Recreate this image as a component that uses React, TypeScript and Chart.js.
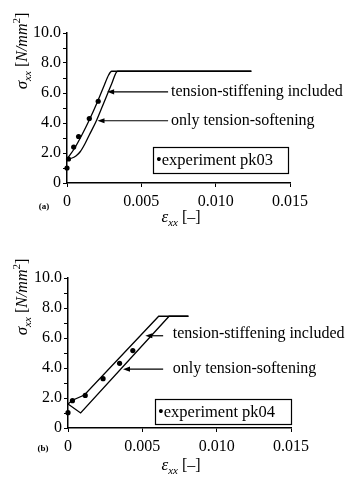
import React, { useEffect, useRef } from "react";
import { Chart, registerables } from "chart.js";

Chart.register(...registerables);

const FONT = '"Liberation Serif", "Times New Roman", serif';

// ---- axes ----
const X_TICKS = [0, 0.005, 0.01, 0.015];
const X_TICK_LABELS = ["0", "0.005", "0.010", "0.015"];
const Y_TICKS = [0, 1, 2, 3, 4, 5, 6, 7, 8, 9, 10];
const Y_TICK_LABELS = ["0", "", "2.0", "", "4.0", "", "6.0", "", "8.0", "", "10.0"];

const LABEL_STIFF = "tension-stiffening included";
const LABEL_SOFT = "only tension-softening";

// ---- panel (a) ----
const A_STIFF_X = [0, 0.0005, 0.001, 0.0015, 0.002, 0.0025, 0.0028, 0.003, 0.0124];
const A_STIFF_Y = [1.6, 2.3, 3.2, 4.2, 5.3, 6.5, 7.2, 7.45, 7.45];
const A_SOFT_X = [0, 0.0003, 0.0006, 0.0009, 0.0012, 0.0015, 0.002, 0.0025, 0.003, 0.0034, 0.0124];
const A_SOFT_Y = [1.6, 1.65, 1.8, 2.1, 2.6, 3.2, 4.2, 5.4, 6.6, 7.45, 7.45];
const A_EXP_X = [0, 0.0001, 0.00045, 0.00078, 0.0015, 0.0021];
const A_EXP_Y = [1.0, 1.6, 2.4, 3.1, 4.3, 5.45];
const A_EXP_LABEL = "experiment pk03";
const A_TAG = "(a)";

// ---- panel (b) ----
const B_STIFF_X = [0, 0.0003, 0.0011, 0.0061, 0.0081];
const B_STIFF_Y = [1.6, 1.85, 2.2, 7.45, 7.45];
const B_SOFT_X = [0, 0.00085, 0.0068, 0.0081];
const B_SOFT_Y = [1.6, 1.0, 7.45, 7.45];
const B_EXP_X = [0, 0.0003, 0.00116, 0.00236, 0.00347, 0.00436];
const B_EXP_Y = [1.02, 1.82, 2.17, 3.29, 4.31, 5.16];
const B_EXP_LABEL = "experiment pk04";
const B_TAG = "(b)";

type Seg = { t: string; size: number; italic?: boolean; bold?: boolean; dy?: number };

const zip = (xs: number[], ys: number[]) => xs.map((x, i) => ({ x, y: ys[i] }));

const Y_TITLE: Seg[] = [
  { t: "σ", size: 17, italic: true },
  { t: "xx", size: 11, italic: true, dy: 4 },
  { t: " [", size: 16 },
  { t: "N/mm", size: 16, italic: true },
  { t: "2", size: 11, dy: -7 },
  { t: "]", size: 16 },
];
const X_TITLE: Seg[] = [
  { t: "ε", size: 17, italic: true },
  { t: "xx", size: 11, italic: true, dy: 4 },
  { t: " [–]", size: 16 },
];

function segFont(s: Seg) {
  return `${s.italic ? "italic " : ""}${s.bold ? "bold " : ""}${s.size}px ${FONT}`;
}
function drawRich(ctx: CanvasRenderingContext2D, segs: Seg[], cx: number, baseline: number) {
  let w = 0;
  for (const s of segs) {
    ctx.font = segFont(s);
    w += ctx.measureText(s.t).width;
  }
  let x = cx - w / 2;
  ctx.textAlign = "left";
  ctx.textBaseline = "alphabetic";
  for (const s of segs) {
    ctx.font = segFont(s);
    ctx.fillText(s.t, x, baseline + (s.dy || 0));
    x += ctx.measureText(s.t).width;
  }
}

type Spec = {
  stiffX: number[]; stiffY: number[];
  softX: number[]; softY: number[];
  expX: number[]; expY: number[];
  expLabel: string; tag: string;
  smooth: boolean;
  height: number;
  area: { left: number; right: number; top: number; bottom: number };
  arrows: { tip: number; end: number; y: number; labelX: number; labelY: number; text: string }[];
  box: { x: number; y: number; w: number; h: number };
  yTitle: { cx: number; cy: number };
  xTitle: { cx: number; base: number };
  tagPos: { x: number; y: number };
};

const PANEL_A: Spec = {
  stiffX: A_STIFF_X, stiffY: A_STIFF_Y, softX: A_SOFT_X, softY: A_SOFT_Y,
  expX: A_EXP_X, expY: A_EXP_Y, expLabel: A_EXP_LABEL, tag: A_TAG,
  smooth: true,
  height: 240,
  area: { left: 67, right: 290, top: 33, bottom: 183 },
  arrows: [
    { tip: 0.0027, end: 0.0068, y: 6.08, labelX: 0.007, labelY: 6.1, text: LABEL_STIFF },
    { tip: 0.00205, end: 0.0068, y: 4.15, labelX: 0.007, labelY: 4.15, text: LABEL_SOFT },
  ],
  box: { x: 153, y: 147, w: 135, h: 26 },
  yTitle: { cx: 22, cy: 51 },
  xTitle: { cx: 181, base: 222 },
  tagPos: { x: 44, y: 207 },
};

const PANEL_B: Spec = {
  stiffX: B_STIFF_X, stiffY: B_STIFF_Y, softX: B_SOFT_X, softY: B_SOFT_Y,
  expX: B_EXP_X, expY: B_EXP_Y, expLabel: B_EXP_LABEL, tag: B_TAG,
  smooth: false,
  height: 241,
  area: { left: 68, right: 291, top: 38, bottom: 188 },
  arrows: [
    { tip: 0.0052, end: 0.0064, y: 6.15, labelX: 0.00705, labelY: 6.25, text: LABEL_STIFF },
    { tip: 0.0037, end: 0.0064, y: 3.92, labelX: 0.00705, labelY: 3.92, text: LABEL_SOFT },
  ],
  box: { x: 155, y: 159, w: 136, h: 25 },
  yTitle: { cx: 22, cy: 57 },
  xTitle: { cx: 181, base: 230 },
  tagPos: { x: 43, y: 209 },
};

function decor(spec: Spec) {
  return {
    id: "decor",
    afterDatasetsDraw(chart: any) {
      const ctx: CanvasRenderingContext2D = chart.ctx;
      const xs = chart.scales.x;
      const ys = chart.scales.y;
      ctx.save();
      ctx.fillStyle = "#000";
      ctx.strokeStyle = "#000";
      // arrows + labels
      for (const a of spec.arrows) {
        const tx = xs.getPixelForValue(a.tip);
        const ex = xs.getPixelForValue(a.end);
        const y = ys.getPixelForValue(a.y);
        ctx.lineWidth = 1.2;
        ctx.beginPath();
        ctx.moveTo(tx + 5, y);
        ctx.lineTo(ex, y);
        ctx.stroke();
        ctx.beginPath();
        ctx.moveTo(tx, y);
        ctx.lineTo(tx + 7, y - 2.6);
        ctx.lineTo(tx + 7, y + 2.6);
        ctx.closePath();
        ctx.fill();
        ctx.font = `16px ${FONT}`;
        ctx.textAlign = "left";
        ctx.textBaseline = "middle";
        ctx.fillText(a.text, xs.getPixelForValue(a.labelX), ys.getPixelForValue(a.labelY));
      }
      // legend box
      const b = spec.box;
      ctx.fillStyle = "#fff";
      ctx.fillRect(b.x, b.y, b.w, b.h);
      ctx.lineWidth = 1.2;
      ctx.strokeRect(b.x + 0.5, b.y + 0.5, b.w, b.h);
      ctx.fillStyle = "#000";
      ctx.font = `16.5px ${FONT}`;
      ctx.textBaseline = "middle";
      ctx.textAlign = "left";
      ctx.fillText("•" + spec.expLabel, b.x + 3, b.y + b.h / 2 + 1);
      // y title (rotated)
      ctx.save();
      ctx.translate(spec.yTitle.cx, spec.yTitle.cy);
      ctx.rotate(-Math.PI / 2);
      drawRich(ctx, Y_TITLE, 0, 5);
      ctx.restore();
      // x title
      drawRich(ctx, X_TITLE, spec.xTitle.cx, spec.xTitle.base);
      // panel tag
      ctx.font = `bold 9px ${FONT}`;
      ctx.textAlign = "center";
      ctx.textBaseline = "middle";
      ctx.fillText(spec.tag, spec.tagPos.x, spec.tagPos.y);
      ctx.restore();
    },
  };
}

function buildConfig(spec: Spec): any {
  const tickFont = { family: FONT, size: 16 };
  const lineDs = (label: string, xs: number[], ys: number[]) => ({
    label,
    data: zip(xs, ys),
    showLine: true,
    pointRadius: 0,
    borderColor: "#000",
    borderWidth: 1.3,
    backgroundColor: "#000",
    cubicInterpolationMode: spec.smooth ? "monotone" : "default",
    tension: 0,
    clip: false,
  });
  return {
    type: "scatter",
    data: {
      datasets: [
        lineDs(LABEL_STIFF, spec.stiffX, spec.stiffY),
        lineDs(LABEL_SOFT, spec.softX, spec.softY),
        {
          label: spec.expLabel,
          data: zip(spec.expX, spec.expY),
          showLine: false,
          pointRadius: 2.6,
          pointBackgroundColor: "#000",
          pointBorderWidth: 0,
          clip: false,
        },
      ],
    },
    options: {
      responsive: false,
      animation: false,
      devicePixelRatio: 1,
      layout: {
        padding: { left: 0, top: spec.area.top, right: 353 - spec.area.right, bottom: 0 },
      },
      plugins: { legend: { display: false }, tooltip: { enabled: false } },
      scales: {
        x: {
          type: "linear",
          min: 0,
          max: 0.015,
          afterBuildTicks: (s: any) => {
            s.ticks = X_TICKS.map((v) => ({ value: v }));
          },
          afterFit: (s: any) => {
            s.height = spec.height - spec.area.bottom;
          },
          ticks: {
            callback: (_v: any, i: number) => X_TICK_LABELS[i],
            font: tickFont,
            color: "#000",
            padding: 5,
            maxRotation: 0,
            autoSkip: false,
          },
          grid: { drawOnChartArea: false, tickLength: 4, color: "#000", lineWidth: 1 },
          border: { color: "#000", width: 1.5 },
        },
        y: {
          type: "linear",
          min: 0,
          max: 10,
          afterBuildTicks: (s: any) => {
            s.ticks = Y_TICKS.map((v) => ({ value: v }));
          },
          afterFit: (s: any) => {
            s.width = spec.area.left;
          },
          ticks: {
            callback: (_v: any, i: number) => Y_TICK_LABELS[i],
            font: tickFont,
            color: "#000",
            padding: 2,
            autoSkip: false,
          },
          grid: { drawOnChartArea: false, tickLength: 4, color: "#000", lineWidth: 1 },
          border: { color: "#000", width: 1.5 },
        },
      },
    },
    plugins: [decor(spec)],
  };
}

function Panel({ spec, top }: { spec: Spec; top: number }) {
  const ref = useRef<HTMLCanvasElement>(null);
  useEffect(() => {
    const chart = new Chart(ref.current as HTMLCanvasElement, buildConfig(spec));
    return () => chart.destroy();
  }, [spec]);
  return (
    <canvas
      ref={ref}
      width={353}
      height={spec.height}
      style={{ position: "absolute", left: 0, top, width: 353, height: spec.height, display: "block" }}
    />
  );
}

export default function App() {
  return (
    <div style={{ position: "absolute", left: 0, top: 0, width: 353, height: 481, background: "#fff" }}>
      <Panel spec={PANEL_A} top={0} />
      <Panel spec={PANEL_B} top={240} />
    </div>
  );
}
